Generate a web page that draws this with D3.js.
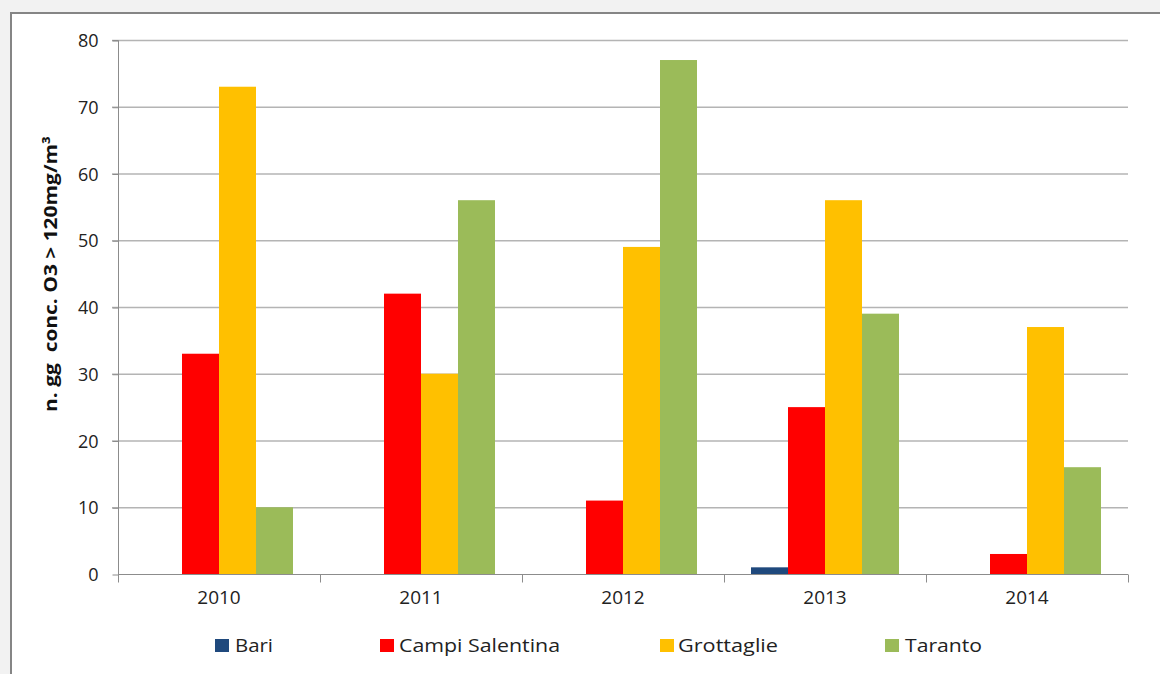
<!DOCTYPE html>
<html>
<head>
<meta charset="utf-8">
<script src="https://cdn.jsdelivr.net/npm/d3@7"></script>
<style>
  html, body { margin: 0; padding: 0; background: #f2f2f2; }
  svg { display: block; }
</style>
</head>
<body>
<svg id="chart" width="1160" height="674"></svg>
<script>
const years = ["2010", "2011", "2012", "2013", "2014"];
const seriesNames = ["Bari", "Campi Salentina", "Grottaglie", "Taranto"];
const bari = [0, 0, 0, 1, 0];
const campiSalentina = [33, 42, 11, 25, 3];
const grottaglie = [73, 30, 49, 56, 37];
const taranto = [10, 56, 77, 39, 16];
const yTicks = [0, 10, 20, 30, 40, 50, 60, 70, 80];
const colors = ["#1f497d", "#ff0000", "#ffc000", "#9bbb59"];
const yLabel = "n. gg  conc. O3 > 120mg/m\u00B3";

const seriesValues = [bari, campiSalentina, grottaglie, taranto];

const svg = d3.select("#chart");
const W = 1160, H = 674;
const mLeft = 118, mRight = 1128, mTop = 40, mBottom = 574;

// background panel
svg.append("rect").attr("x", 0).attr("y", 0).attr("width", W).attr("height", H).attr("fill", "#f2f2f2");
svg.append("rect").attr("x", 11).attr("y", 13).attr("width", W + 20).attr("height", H + 20)
  .attr("fill", "#ffffff").attr("stroke", "#858585").attr("stroke-width", 2);

const x0 = d3.scaleBand().domain(years).range([mLeft, mRight]).padding(0);
const groupPad = 27;
const x1 = d3.scaleBand().domain(seriesNames).range([groupPad, x0.bandwidth() - groupPad]).padding(0);
const y = d3.scaleLinear().domain([0, 80]).range([mBottom, mTop]);

// gridlines
svg.append("g").selectAll("line").data(yTicks.filter(d => d > 0)).join("line")
  .attr("x1", mLeft - 6).attr("x2", mRight)
  .attr("y1", d => y(d) + 0.5).attr("y2", d => y(d) + 0.5)
  .attr("stroke", "#b4b4b4").attr("stroke-width", 1.3);

// bars
const data = [];
years.forEach((yr, i) => seriesNames.forEach((s, j) => data.push({ yr, s, v: seriesValues[j][i], c: colors[j] })));
svg.append("g").selectAll("rect").data(data).join("rect")
  .attr("x", d => x0(d.yr) + x1(d.s))
  .attr("y", d => y(d.v))
  .attr("width", x1.bandwidth())
  .attr("height", d => y(0) - y(d.v))
  .attr("fill", d => d.c);

// y axis
const yAxis = d3.axisLeft(y).tickValues(yTicks).tickSize(6).tickPadding(14);
const gy = svg.append("g").attr("transform", `translate(${mLeft + 0.5},0.5)`).call(yAxis);
gy.select(".domain").attr("stroke", "#8c8c8c").attr("d", `M-6,${mTop}H0V${mBottom}`);
gy.selectAll(".tick line").attr("stroke", "#8c8c8c");
gy.selectAll(".tick text").attr("font-family", "'Open Sans', sans-serif").attr("font-size", 18).attr("fill", "#222").attr("dy", "0.34em");

// x axis
const xAxis = d3.axisBottom(x0).tickSize(0).tickPadding(16);
const gx = svg.append("g").attr("transform", `translate(0,${mBottom + 0.5})`).call(xAxis);
gx.select(".domain").attr("stroke", "#8c8c8c").attr("d", `M${mLeft},0H${mRight}`);
gx.selectAll(".tick text").attr("font-family", "'Open Sans', sans-serif").attr("font-size", 19).attr("fill", "#222");
// category separator ticks
const bounds = years.map(yr => x0(yr)).concat([mRight]);
gx.append("g").selectAll("line").data(bounds).join("line")
  .attr("x1", d => d + 0.5).attr("x2", d => d + 0.5).attr("y1", 0).attr("y2", 8)
  .attr("stroke", "#8c8c8c");

// y label
svg.append("text")
  .attr("transform", `translate(57,274) rotate(-90)`)
  .attr("text-anchor", "middle")
  .style("white-space", "pre")
  .attr("font-family", "'Open Sans', sans-serif").attr("font-weight", "bold").attr("font-size", 18)
  .attr("fill", "#111")
  .attr("textLength", 276).attr("lengthAdjust", "spacingAndGlyphs")
  .text(yLabel);

// legend
const legendPos = [
  { sq: 215, tx: 235, w: 38 },
  { sq: 380, tx: 399, w: 161 },
  { sq: 660, tx: 678, w: 100 },
  { sq: 885, tx: 905, w: 77 }
];
const lg = svg.append("g").selectAll("g").data(seriesNames).join("g");
lg.append("rect")
  .attr("x", (d, i) => legendPos[i].sq).attr("y", 639)
  .attr("width", 14).attr("height", 13)
  .attr("fill", (d, i) => colors[i]);
lg.append("text")
  .attr("x", (d, i) => legendPos[i].tx).attr("y", 652)
  .attr("font-family", "'Open Sans', sans-serif").attr("font-size", 19).attr("fill", "#222")
  .attr("textLength", (d, i) => legendPos[i].w).attr("lengthAdjust", "spacingAndGlyphs")
  .text(d => d);
</script>
</body>
</html>
